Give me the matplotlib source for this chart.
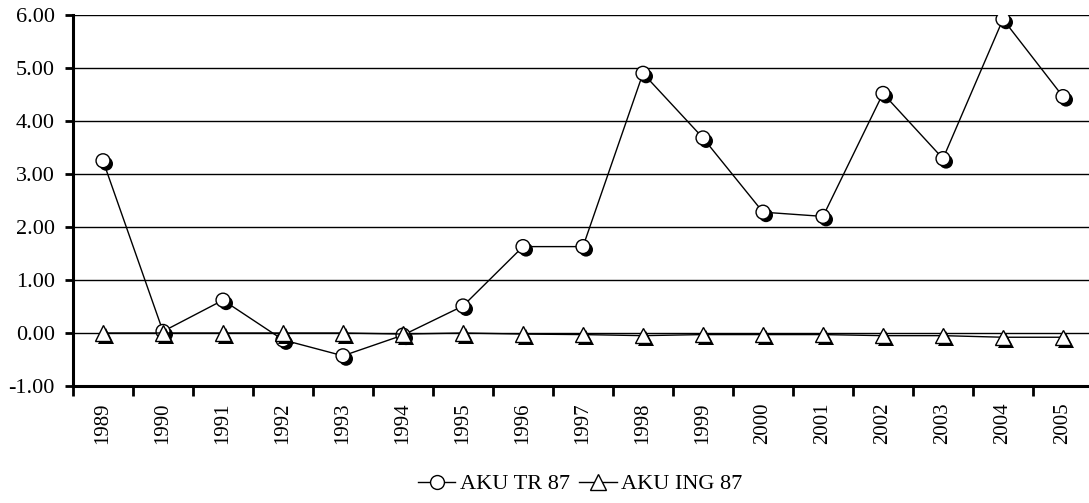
import matplotlib
matplotlib.use("Agg")
import matplotlib.pyplot as plt
import matplotlib.patheffects as pe
from matplotlib.ticker import FixedLocator, FormatStrFormatter

years = ["1989", "1990", "1991", "1992", "1993", "1994", "1995", "1996", "1997",
         "1998", "1999", "2000", "2001", "2002", "2003", "2004", "2005"]
aku_tr = [3.25, 0.03, 0.62, -0.13, -0.43, -0.04, 0.51, 1.63, 1.63,
          4.90, 3.68, 2.28, 2.20, 4.52, 3.29, 5.92, 4.46]
aku_ing = [0.0, 0.0, 0.0, 0.0, 0.0, -0.02, 0.0, -0.02, -0.03,
           -0.05, -0.03, -0.03, -0.03, -0.05, -0.05, -0.08, -0.08]
yticks = [-1, 0, 1, 2, 3, 4, 5, 6]

plt.rcParams['font.family'] = ['Liberation Serif', 'DejaVu Serif']

fig = plt.figure(figsize=(10.89, 5.03), dpi=100)
ax = fig.add_axes([73/1089, (503-386)/503, (1093-73)/1089, (386-15)/503])

x = list(range(len(years)))
shadow = [pe.SimplePatchShadow(offset=(2.2, -2.2), shadow_rgbFace='black', alpha=1.0), pe.Normal()]

ax.plot(x, aku_tr, color='black', lw=1.0, zorder=3)
ax.plot(x, aku_tr, ls='none', marker='o', ms=10, mfc='white', mec='black', mew=1.0,
        path_effects=shadow, zorder=4)
ax.plot(x, aku_ing, color='black', lw=1.0, zorder=5)
ax.plot(x, aku_ing, ls='none', marker='^', ms=11, mfc='white', mec='black', mew=1.0,
        path_effects=shadow, zorder=6)

# legend proxies
h1, = ax.plot([], [], color='black', lw=1.0, marker='o', ms=10, mfc='white', mec='black')
h2, = ax.plot([], [], color='black', lw=1.0, marker='^', ms=11, mfc='white', mec='black')
fig.legend([h1, h2], ["AKU TR 87", "AKU ING 87"], loc='center', bbox_to_anchor=(580/1089, 1-484/503),
           ncol=2, frameon=False, fontsize=16, handlelength=1.7, handletextpad=0.2,
           columnspacing=0.4, borderpad=0)

ax.set_xlim(-0.5, len(years) - 0.5)
ax.set_ylim(-1, 6)
ax.yaxis.set_major_locator(FixedLocator(yticks))
ax.yaxis.set_major_formatter(FormatStrFormatter('%.2f'))
ax.set_xticks(x)
ax.set_xticklabels(years, rotation=90, fontsize=15)
ax.set_xticks([i - 0.5 for i in range(len(years) + 1)], minor=True)
ax.tick_params(axis='x', which='major', length=0, pad=12)
ax.tick_params(axis='x', which='minor', length=7, width=2, direction='out')
ax.tick_params(axis='y', length=6, width=2, direction='out', labelsize=16, pad=7)

ax.grid(axis='y', color='black', lw=1.0, zorder=1)
ax.set_axisbelow(True)
for s in ['top', 'right']:
    ax.spines[s].set_visible(False)
ax.spines['left'].set_linewidth(2.2)
ax.spines['bottom'].set_linewidth(2.2)

fig.savefig("out.png", dpi=100)
